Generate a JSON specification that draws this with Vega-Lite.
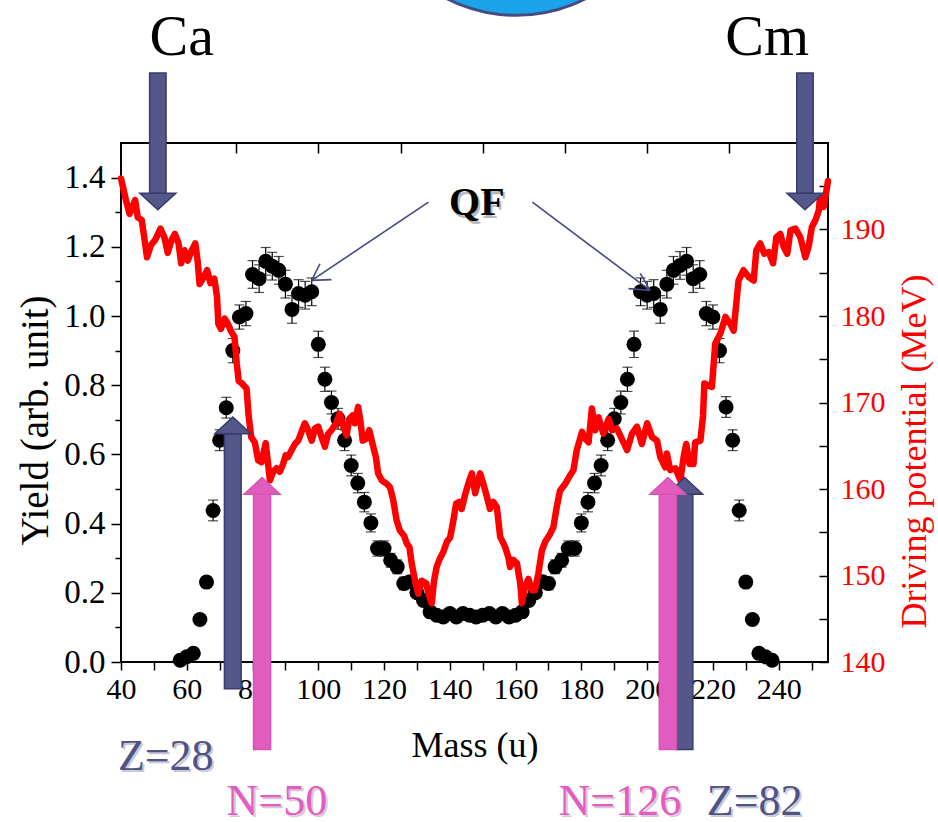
{
  "$schema": "https://vega.github.io/schema/vega-lite/v6.json",
  "width": 707,
  "height": 519,
  "autosize": "none",
  "padding": {"left": 121, "top": 143, "right": 110, "bottom": 160},
  "background": "white",
  "config": {
    "font": "Liberation Serif",
    "view": {"stroke": "black", "strokeWidth": 2},
    "axis": {
      "grid": false, "domain": false,
      "labelFont": "Liberation Serif", "titleFont": "Liberation Serif",
      "labelFontSize": 30, "titleFontSize": 36, "titleFontWeight": "normal",
      "labelColor": "black", "titleColor": "black", "tickColor": "black", "tickWidth": 1.5,
      "labelFlush": false, "labelOverlap": false
    }
  },
  "datasets": {
    "yield": [
      {"m": 58, "y": 0.005, "err": 0.005}, {"m": 60, "y": 0.015, "err": 0.005}, {"m": 62, "y": 0.025, "err": 0.005},
      {"m": 64, "y": 0.123, "err": 0.01}, {"m": 66, "y": 0.231, "err": 0.015}, {"m": 68, "y": 0.438, "err": 0.03},
      {"m": 70, "y": 0.641, "err": 0.03}, {"m": 72, "y": 0.735, "err": 0.03}, {"m": 74, "y": 0.9, "err": 0.035},
      {"m": 76, "y": 0.997, "err": 0.035}, {"m": 78, "y": 1.007, "err": 0.035}, {"m": 80, "y": 1.12, "err": 0.04},
      {"m": 82, "y": 1.108, "err": 0.04}, {"m": 84, "y": 1.158, "err": 0.04}, {"m": 86, "y": 1.144, "err": 0.04},
      {"m": 88, "y": 1.132, "err": 0.04}, {"m": 90, "y": 1.092, "err": 0.04}, {"m": 92, "y": 1.019, "err": 0.04},
      {"m": 94, "y": 1.065, "err": 0.04}, {"m": 96, "y": 1.06, "err": 0.04}, {"m": 98, "y": 1.07, "err": 0.04},
      {"m": 100, "y": 0.918, "err": 0.038}, {"m": 102, "y": 0.817, "err": 0.035}, {"m": 104, "y": 0.75, "err": 0.033},
      {"m": 106, "y": 0.703, "err": 0.03}, {"m": 108, "y": 0.641, "err": 0.03}, {"m": 110, "y": 0.568, "err": 0.03},
      {"m": 112, "y": 0.517, "err": 0.028}, {"m": 114, "y": 0.462, "err": 0.028}, {"m": 116, "y": 0.402, "err": 0.026},
      {"m": 118, "y": 0.328, "err": 0.022}, {"m": 120, "y": 0.328, "err": 0.022}, {"m": 122, "y": 0.294, "err": 0.02},
      {"m": 124, "y": 0.275, "err": 0.02}, {"m": 126, "y": 0.227, "err": 0.018}, {"m": 128, "y": 0.232, "err": 0.018},
      {"m": 130, "y": 0.2, "err": 0.015}, {"m": 132, "y": 0.178, "err": 0.015}, {"m": 134, "y": 0.145, "err": 0.012},
      {"m": 136, "y": 0.135, "err": 0.012}, {"m": 138, "y": 0.13, "err": 0.012}, {"m": 140, "y": 0.14, "err": 0.012},
      {"m": 142, "y": 0.13, "err": 0.012}, {"m": 144, "y": 0.14, "err": 0.012}, {"m": 146, "y": 0.135, "err": 0.012},
      {"m": 148, "y": 0.13, "err": 0.012}, {"m": 150, "y": 0.135, "err": 0.012}, {"m": 152, "y": 0.14, "err": 0.012},
      {"m": 154, "y": 0.13, "err": 0.012}, {"m": 156, "y": 0.14, "err": 0.012}, {"m": 158, "y": 0.13, "err": 0.012},
      {"m": 160, "y": 0.135, "err": 0.012}, {"m": 162, "y": 0.145, "err": 0.012}, {"m": 164, "y": 0.178, "err": 0.015},
      {"m": 166, "y": 0.2, "err": 0.015}, {"m": 168, "y": 0.232, "err": 0.018}, {"m": 170, "y": 0.227, "err": 0.018},
      {"m": 172, "y": 0.275, "err": 0.02}, {"m": 174, "y": 0.294, "err": 0.02}, {"m": 176, "y": 0.328, "err": 0.022},
      {"m": 178, "y": 0.328, "err": 0.022}, {"m": 180, "y": 0.402, "err": 0.026}, {"m": 182, "y": 0.462, "err": 0.028},
      {"m": 184, "y": 0.517, "err": 0.028}, {"m": 186, "y": 0.568, "err": 0.03}, {"m": 188, "y": 0.641, "err": 0.03},
      {"m": 190, "y": 0.703, "err": 0.03}, {"m": 192, "y": 0.75, "err": 0.033}, {"m": 194, "y": 0.817, "err": 0.035},
      {"m": 196, "y": 0.918, "err": 0.038}, {"m": 198, "y": 1.07, "err": 0.04}, {"m": 200, "y": 1.06, "err": 0.04},
      {"m": 202, "y": 1.065, "err": 0.04}, {"m": 204, "y": 1.019, "err": 0.04}, {"m": 206, "y": 1.092, "err": 0.04},
      {"m": 208, "y": 1.132, "err": 0.04}, {"m": 210, "y": 1.146, "err": 0.04}, {"m": 212, "y": 1.158, "err": 0.04},
      {"m": 214, "y": 1.108, "err": 0.04}, {"m": 216, "y": 1.12, "err": 0.04}, {"m": 218, "y": 1.007, "err": 0.035},
      {"m": 220, "y": 0.997, "err": 0.035}, {"m": 222, "y": 0.9, "err": 0.035}, {"m": 224, "y": 0.737, "err": 0.03},
      {"m": 226, "y": 0.641, "err": 0.03}, {"m": 228, "y": 0.438, "err": 0.03}, {"m": 230, "y": 0.231, "err": 0.015},
      {"m": 232, "y": 0.123, "err": 0.01}, {"m": 234, "y": 0.025, "err": 0.005}, {"m": 236, "y": 0.015, "err": 0.005},
      {"m": 238, "y": 0.005, "err": 0.005}
    ],
    "drive": [
      {"m": 40.0, "e": 195.9}, {"m": 41.5, "e": 193.4}, {"m": 42.6, "e": 191.8}, {"m": 44.3, "e": 193.4},
      {"m": 45.1, "e": 191.4}, {"m": 46.3, "e": 191.1}, {"m": 47.1, "e": 189.0}, {"m": 47.9, "e": 186.8},
      {"m": 49.1, "e": 188.2}, {"m": 50.4, "e": 188.8}, {"m": 52.0, "e": 190.1}, {"m": 53.2, "e": 189.1},
      {"m": 54.2, "e": 187.3}, {"m": 55.4, "e": 188.8}, {"m": 56.4, "e": 189.5}, {"m": 57.5, "e": 188.4},
      {"m": 58.3, "e": 186.1}, {"m": 59.3, "e": 187.6}, {"m": 60.3, "e": 186.4}, {"m": 61.3, "e": 187.4},
      {"m": 62.6, "e": 188.4}, {"m": 63.3, "e": 186.4}, {"m": 63.9, "e": 183.7}, {"m": 65.2, "e": 184.5},
      {"m": 66.2, "e": 185.3}, {"m": 67.2, "e": 183.8}, {"m": 68.4, "e": 184.3}, {"m": 69.2, "e": 182.2},
      {"m": 69.6, "e": 179.1}, {"m": 70.4, "e": 178.5}, {"m": 71.5, "e": 179.7}, {"m": 72.5, "e": 179.1},
      {"m": 73.5, "e": 178.2}, {"m": 74.5, "e": 177.6}, {"m": 75.2, "e": 174.5}, {"m": 75.8, "e": 172.5},
      {"m": 76.8, "e": 172.2}, {"m": 78.2, "e": 171.6}, {"m": 78.8, "e": 168.5}, {"m": 79.6, "e": 166.0},
      {"m": 80.7, "e": 165.4}, {"m": 81.7, "e": 163.3}, {"m": 82.7, "e": 163.1}, {"m": 84.0, "e": 165.3},
      {"m": 85.3, "e": 161.0}, {"m": 86.3, "e": 162.0}, {"m": 87.3, "e": 162.4}, {"m": 88.3, "e": 162.0},
      {"m": 89.3, "e": 162.9}, {"m": 90.1, "e": 163.9}, {"m": 90.8, "e": 163.7}, {"m": 91.9, "e": 164.5},
      {"m": 92.9, "e": 165.2}, {"m": 93.9, "e": 165.6}, {"m": 94.9, "e": 166.6}, {"m": 95.9, "e": 167.6},
      {"m": 96.9, "e": 166.8}, {"m": 98.0, "e": 165.6}, {"m": 99.0, "e": 167.0}, {"m": 100.0, "e": 167.2},
      {"m": 101.0, "e": 166.0}, {"m": 102.0, "e": 164.9}, {"m": 103.0, "e": 166.4}, {"m": 104.0, "e": 166.8},
      {"m": 105.4, "e": 167.6}, {"m": 106.5, "e": 168.7}, {"m": 107.6, "e": 167.2}, {"m": 108.6, "e": 166.2},
      {"m": 109.4, "e": 168.1}, {"m": 110.4, "e": 168.5}, {"m": 111.1, "e": 167.6}, {"m": 112.1, "e": 169.5},
      {"m": 112.9, "e": 167.6}, {"m": 113.5, "e": 165.6}, {"m": 114.5, "e": 165.8}, {"m": 115.5, "e": 166.8},
      {"m": 116.5, "e": 165.2}, {"m": 117.5, "e": 163.7}, {"m": 118.2, "e": 161.8}, {"m": 119.3, "e": 161.0},
      {"m": 120.8, "e": 160.6}, {"m": 121.8, "e": 160.2}, {"m": 122.8, "e": 158.7}, {"m": 123.8, "e": 156.4},
      {"m": 124.8, "e": 155.2}, {"m": 126.1, "e": 154.6}, {"m": 126.9, "e": 153.7}, {"m": 127.7, "e": 153.3},
      {"m": 128.4, "e": 151.4}, {"m": 129.4, "e": 149.4}, {"m": 130.4, "e": 147.9}, {"m": 131.4, "e": 149.4},
      {"m": 132.8, "e": 149.1}, {"m": 133.5, "e": 147.9}, {"m": 134.5, "e": 146.8}, {"m": 135.2, "e": 149.4},
      {"m": 136.0, "e": 151.0}, {"m": 137.0, "e": 152.0}, {"m": 138.0, "e": 152.7}, {"m": 139.1, "e": 153.9},
      {"m": 140.1, "e": 154.4}, {"m": 141.1, "e": 156.4}, {"m": 141.9, "e": 158.3}, {"m": 142.9, "e": 158.5},
      {"m": 143.6, "e": 157.7}, {"m": 144.6, "e": 159.3}, {"m": 145.6, "e": 160.6}, {"m": 146.7, "e": 161.8},
      {"m": 147.7, "e": 159.5}, {"m": 149.2, "e": 161.8}, {"m": 150.2, "e": 160.6}, {"m": 151.2, "e": 159.2},
      {"m": 152.2, "e": 157.7}, {"m": 153.2, "e": 158.5}, {"m": 154.3, "e": 157.9}, {"m": 155.3, "e": 154.5},
      {"m": 156.8, "e": 153.3}, {"m": 157.8, "e": 152.1}, {"m": 158.3, "e": 151.0}, {"m": 159.3, "e": 151.8},
      {"m": 160.4, "e": 151.4}, {"m": 161.4, "e": 149.1}, {"m": 161.9, "e": 146.8}, {"m": 162.9, "e": 148.7},
      {"m": 163.9, "e": 149.6}, {"m": 164.9, "e": 148.3}, {"m": 165.9, "e": 148.3}, {"m": 166.9, "e": 150.2},
      {"m": 168.0, "e": 152.9}, {"m": 169.0, "e": 153.9}, {"m": 170.5, "e": 154.8}, {"m": 171.5, "e": 155.6},
      {"m": 172.5, "e": 157.9}, {"m": 173.5, "e": 159.8}, {"m": 175.1, "e": 160.6}, {"m": 176.6, "e": 161.6},
      {"m": 177.6, "e": 162.2}, {"m": 178.6, "e": 164.5}, {"m": 180.2, "e": 166.6}, {"m": 181.2, "e": 165.8},
      {"m": 182.2, "e": 165.4}, {"m": 183.2, "e": 169.3}, {"m": 184.2, "e": 166.8}, {"m": 185.2, "e": 168.3},
      {"m": 186.7, "e": 166.4}, {"m": 188.3, "e": 168.1}, {"m": 189.3, "e": 166.8}, {"m": 190.8, "e": 167.0},
      {"m": 192.3, "e": 165.8}, {"m": 193.9, "e": 164.5}, {"m": 195.4, "e": 166.4}, {"m": 196.9, "e": 167.2},
      {"m": 198.4, "e": 165.2}, {"m": 200.0, "e": 167.6}, {"m": 201.5, "e": 166.0}, {"m": 203.0, "e": 165.6},
      {"m": 204.0, "e": 163.7}, {"m": 205.5, "e": 162.5}, {"m": 206.0, "e": 164.1}, {"m": 207.0, "e": 162.2},
      {"m": 208.6, "e": 162.4}, {"m": 210.1, "e": 161.0}, {"m": 211.1, "e": 163.7}, {"m": 211.9, "e": 165.2},
      {"m": 212.9, "e": 162.9}, {"m": 214.1, "e": 162.9}, {"m": 214.6, "e": 165.4}, {"m": 216.2, "e": 165.6},
      {"m": 217.0, "e": 168.5}, {"m": 217.4, "e": 172.2}, {"m": 219.7, "e": 171.8}, {"m": 220.7, "e": 176.8},
      {"m": 222.3, "e": 178.0}, {"m": 223.8, "e": 179.9}, {"m": 225.3, "e": 179.1}, {"m": 226.3, "e": 178.3},
      {"m": 227.3, "e": 182.2}, {"m": 227.8, "e": 184.1}, {"m": 229.3, "e": 185.3}, {"m": 230.9, "e": 184.5},
      {"m": 232.4, "e": 184.1}, {"m": 233.2, "e": 187.6}, {"m": 234.4, "e": 188.4}, {"m": 235.6, "e": 187.2},
      {"m": 237.0, "e": 187.4}, {"m": 238.3, "e": 186.1}, {"m": 239.3, "e": 189.1}, {"m": 240.5, "e": 189.5},
      {"m": 241.5, "e": 188.0}, {"m": 242.6, "e": 187.2}, {"m": 243.6, "e": 189.9}, {"m": 245.1, "e": 190.1},
      {"m": 246.6, "e": 189.1}, {"m": 248.1, "e": 186.8}, {"m": 249.1, "e": 188.0}, {"m": 250.1, "e": 190.3},
      {"m": 251.2, "e": 191.1}, {"m": 252.2, "e": 192.2}, {"m": 252.6, "e": 193.8}, {"m": 253.7, "e": 192.6},
      {"m": 254.7, "e": 194.9}, {"m": 255.0, "e": 195.6}
    ],
    "arrows": [
      {"name": "Ca", "kind": "dark", "dir": "down", "m": 51.2, "xa": 48.7, "xb": 53.7, "ya": 1.702, "yb": 1.355},
      {"name": "Cm", "kind": "dark", "dir": "down", "m": 248.0, "xa": 245.5, "xb": 250.5, "ya": 1.702, "yb": 1.355},
      {"name": "Z=28", "kind": "dark", "dir": "up", "m": 74.0, "xa": 71.45, "xb": 76.55, "ya": -0.077, "yb": 0.66},
      {"name": "Z=82", "kind": "dark", "dir": "up", "m": 211.4, "xa": 208.9, "xb": 213.9, "ya": -0.253, "yb": 0.485},
      {"name": "N=50", "kind": "pink", "dir": "up", "m": 82.9, "xa": 80.3, "xb": 85.5, "ya": -0.253, "yb": 0.485},
      {"name": "N=126", "kind": "pink", "dir": "up", "m": 206.3, "xa": 203.7, "xb": 208.9, "ya": -0.253, "yb": 0.485}
    ],
    "qf": [
      {"x1": 133.5, "y1": 1.329, "x2": 98.0, "y2": 1.103},
      {"x1": 98.0, "y1": 1.103, "x2": 100.5, "y2": 1.151},
      {"x1": 98.0, "y1": 1.103, "x2": 104.0, "y2": 1.105},
      {"x1": 165.1, "y1": 1.329, "x2": 200.9, "y2": 1.074},
      {"x1": 200.9, "y1": 1.074, "x2": 197.9, "y2": 1.123},
      {"x1": 200.9, "y1": 1.074, "x2": 194.3, "y2": 1.079}
    ],
    "elements": [
      {"t": "Ca", "m": 58.5, "y": 1.753},
      {"t": "Cm", "m": 236.5, "y": 1.753}
    ],
    "zlab": [
      {"t": "Z=28", "m": 53.6, "y": -0.313},
      {"t": "Z=82", "m": 232.7, "y": -0.443}
    ],
    "nlab": [
      {"t": "N=50", "m": 87.4, "y": -0.443},
      {"t": "N=126", "m": 191.7, "y": -0.443}
    ],
    "qflab": [{"t": "QF", "m": 148.2, "y": 1.291}],
    "ball": [{"m": 160.2, "y": 2.31}]
  },
  "layer": [
    {
      "data": {"name": "yield"},
      "mark": {"type": "errorbar", "ticks": {"size": 10, "thickness": 1.2, "color": "black"}, "rule": {"strokeWidth": 1.2, "color": "black"}},
      "encoding": {
        "x": {"field": "m", "type": "quantitative", "scale": {"domain": [40, 255], "nice": false, "zero": false}, "axis": null},
        "y": {"field": "y", "type": "quantitative", "scale": {"domain": [0, 1.5], "nice": false, "zero": false}, "axis": null},
        "yError": {"field": "err"}
      }
    },
    {
      "data": {"name": "yield"},
      "mark": {"type": "circle", "size": 225, "color": "black", "opacity": 1},
      "encoding": {
        "x": {"field": "m", "type": "quantitative", "scale": {"domain": [40, 255], "nice": false, "zero": false},
          "axis": {"orient": "bottom", "values": [40, 50, 60, 70, 80, 90, 100, 110, 120, 130, 140, 150, 160, 170, 180, 190, 200, 210, 220, 230, 240, 250],
            "labelExpr": "round(datum.value) % 20 === 0 && datum.value < 245 ? datum.label : ''",
            "tickSize": 8, "labelPadding": 4, "title": "Mass (u)", "titlePadding": 24}},
        "y": {"field": "y", "type": "quantitative", "scale": {"domain": [0, 1.5], "nice": false, "zero": false},
          "axis": {"orient": "left", "values": [0, 0.1, 0.2, 0.3, 0.4, 0.5, 0.6, 0.7, 0.8, 0.9, 1.0, 1.1, 1.2, 1.3, 1.4],
            "labelExpr": "round(datum.value * 10) % 2 === 0 ? format(datum.value, '.1f') : ''",
            "labelFontSize": 33,
            "tickSize": {"condition": {"test": "round(datum.value * 10) % 2 === 0", "value": 10}, "value": 6},
            "labelPadding": 6, "title": "Yield (arb. unit)", "titleFontSize": 39, "titlePadding": 8, "titleY": 277}}
      }
    },
    {
      "data": {"name": "drive"},
      "mark": {"type": "line", "color": "#ff0000", "strokeWidth": 6.5, "strokeJoin": "round", "strokeCap": "round"},
      "encoding": {
        "x": {"field": "m", "type": "quantitative", "scale": {"domain": [40, 255], "nice": false, "zero": false},
          "axis": {"orient": "top", "values": [50, 75, 100, 125, 150, 175, 200, 225, 250], "tickSize": -10, "labels": false, "title": null}},
        "y": {"field": "e", "type": "quantitative", "scale": {"domain": [140, 200], "nice": false, "zero": false},
          "axis": {"orient": "right", "values": [140, 145, 150, 155, 160, 165, 170, 175, 180, 185, 190, 195],
            "labelExpr": "round(datum.value) % 10 === 0 ? datum.label : ''",
            "tickSize": -9, "labelPadding": 21, "labelColor": "#ff0000",
            "title": "Driving potential (MeV)", "titleColor": "#ff0000", "titleFontSize": 36,
            "titleAngle": 270, "titleBaseline": "top", "titlePadding": 12, "titleY": 308}}
      }
    },
    {
      "data": {"name": "arrows"},
      "mark": {"type": "rect", "strokeWidth": 1.5},
      "encoding": {
        "x": {"field": "xa", "type": "quantitative", "scale": {"domain": [40, 255], "nice": false, "zero": false}, "axis": null},
        "x2": {"field": "xb"},
        "y": {"field": "ya", "type": "quantitative", "scale": {"domain": [0, 1.5], "nice": false, "zero": false}, "axis": null},
        "y2": {"field": "yb"},
        "fill": {"field": "kind", "type": "nominal", "scale": {"domain": ["dark", "pink"], "range": ["#53578a", "#e25bbf"]}, "legend": null},
        "stroke": {"field": "kind", "type": "nominal", "scale": {"domain": ["dark", "pink"], "range": ["#3a3d6b", "#d655b4"]}, "legend": null}
      }
    },
    {
      "data": {"name": "arrows"},
      "mark": {"type": "point", "filled": true, "size": 1296, "strokeWidth": 1.5, "opacity": 1},
      "encoding": {
        "x": {"field": "m", "type": "quantitative", "scale": {"domain": [40, 255], "nice": false, "zero": false}, "axis": null},
        "y": {"field": "yb", "type": "quantitative", "scale": {"domain": [0, 1.5], "nice": false, "zero": false}, "axis": null},
        "shape": {"field": "dir", "type": "nominal", "scale": {"domain": ["up", "down"], "range": ["M-1,0L1,0L0,-0.92Z", "M-1,0L1,0L0,0.92Z"]}, "legend": null},
        "fill": {"field": "kind", "type": "nominal", "scale": {"domain": ["dark", "pink"], "range": ["#53578a", "#e25bbf"]}, "legend": null},
        "stroke": {"field": "kind", "type": "nominal", "scale": {"domain": ["dark", "pink"], "range": ["#3a3d6b", "#d655b4"]}, "legend": null}
      }
    },
    {
      "data": {"name": "qf"},
      "mark": {"type": "rule", "color": "#474a7e", "strokeWidth": 1.6},
      "encoding": {
        "x": {"field": "x1", "type": "quantitative", "scale": {"domain": [40, 255], "nice": false, "zero": false}, "axis": null},
        "x2": {"field": "x2"},
        "y": {"field": "y1", "type": "quantitative", "scale": {"domain": [0, 1.5], "nice": false, "zero": false}, "axis": null},
        "y2": {"field": "y2"}
      }
    },
    {
      "data": {"name": "elements"},
      "mark": {"type": "text", "font": "Liberation Serif", "fontSize": 58, "color": "black", "align": "center", "baseline": "alphabetic"},
      "encoding": {
        "x": {"field": "m", "type": "quantitative", "scale": {"domain": [40, 255], "nice": false, "zero": false}, "axis": null},
        "y": {"field": "y", "type": "quantitative", "scale": {"domain": [0, 1.5], "nice": false, "zero": false}, "axis": null},
        "text": {"field": "t"}
      }
    },
    {
      "data": {"name": "qflab"},
      "mark": {"type": "text", "font": "Liberation Serif", "fontSize": 40, "fontWeight": "bold", "color": "#b8b8b8", "align": "center", "baseline": "alphabetic", "dx": 2, "dy": 3},
      "encoding": {
        "x": {"field": "m", "type": "quantitative", "scale": {"domain": [40, 255], "nice": false, "zero": false}, "axis": null},
        "y": {"field": "y", "type": "quantitative", "scale": {"domain": [0, 1.5], "nice": false, "zero": false}, "axis": null},
        "text": {"field": "t"}
      }
    },
    {
      "data": {"name": "qflab"},
      "mark": {"type": "text", "font": "Liberation Serif", "fontSize": 40, "fontWeight": "bold", "color": "black", "align": "center", "baseline": "alphabetic"},
      "encoding": {
        "x": {"field": "m", "type": "quantitative", "scale": {"domain": [40, 255], "nice": false, "zero": false}, "axis": null},
        "y": {"field": "y", "type": "quantitative", "scale": {"domain": [0, 1.5], "nice": false, "zero": false}, "axis": null},
        "text": {"field": "t"}
      }
    },
    {
      "data": {"name": "zlab"},
      "mark": {"type": "text", "font": "Liberation Serif", "fontSize": 44, "color": "#c9c9d6", "align": "center", "baseline": "alphabetic", "dx": 2, "dy": 2},
      "encoding": {
        "x": {"field": "m", "type": "quantitative", "scale": {"domain": [40, 255], "nice": false, "zero": false}, "axis": null},
        "y": {"field": "y", "type": "quantitative", "scale": {"domain": [0, 1.5], "nice": false, "zero": false}, "axis": null},
        "text": {"field": "t"}
      }
    },
    {
      "data": {"name": "zlab"},
      "mark": {"type": "text", "font": "Liberation Serif", "fontSize": 44, "color": "#4f5386", "align": "center", "baseline": "alphabetic"},
      "encoding": {
        "x": {"field": "m", "type": "quantitative", "scale": {"domain": [40, 255], "nice": false, "zero": false}, "axis": null},
        "y": {"field": "y", "type": "quantitative", "scale": {"domain": [0, 1.5], "nice": false, "zero": false}, "axis": null},
        "text": {"field": "t"}
      }
    },
    {
      "data": {"name": "nlab"},
      "mark": {"type": "text", "font": "Liberation Serif", "fontSize": 44, "color": "#d8c8d8", "align": "center", "baseline": "alphabetic", "dx": 2, "dy": 2},
      "encoding": {
        "x": {"field": "m", "type": "quantitative", "scale": {"domain": [40, 255], "nice": false, "zero": false}, "axis": null},
        "y": {"field": "y", "type": "quantitative", "scale": {"domain": [0, 1.5], "nice": false, "zero": false}, "axis": null},
        "text": {"field": "t"}
      }
    },
    {
      "data": {"name": "nlab"},
      "mark": {"type": "text", "font": "Liberation Serif", "fontSize": 44, "color": "#e35cc2", "align": "center", "baseline": "alphabetic"},
      "encoding": {
        "x": {"field": "m", "type": "quantitative", "scale": {"domain": [40, 255], "nice": false, "zero": false}, "axis": null},
        "y": {"field": "y", "type": "quantitative", "scale": {"domain": [0, 1.5], "nice": false, "zero": false}, "axis": null},
        "text": {"field": "t"}
      }
    },
    {
      "data": {"name": "ball"},
      "mark": {"type": "circle", "size": 93000, "fill": "#1aa3e8", "stroke": "#464b80", "strokeWidth": 3, "opacity": 1},
      "encoding": {
        "x": {"field": "m", "type": "quantitative", "scale": {"domain": [40, 255], "nice": false, "zero": false}, "axis": null},
        "y": {"field": "y", "type": "quantitative", "scale": {"domain": [0, 1.5], "nice": false, "zero": false}, "axis": null}
      }
    }
  ],
  "resolve": {"scale": {"y": "independent"}, "axis": {"x": "independent", "y": "independent"}}
}
